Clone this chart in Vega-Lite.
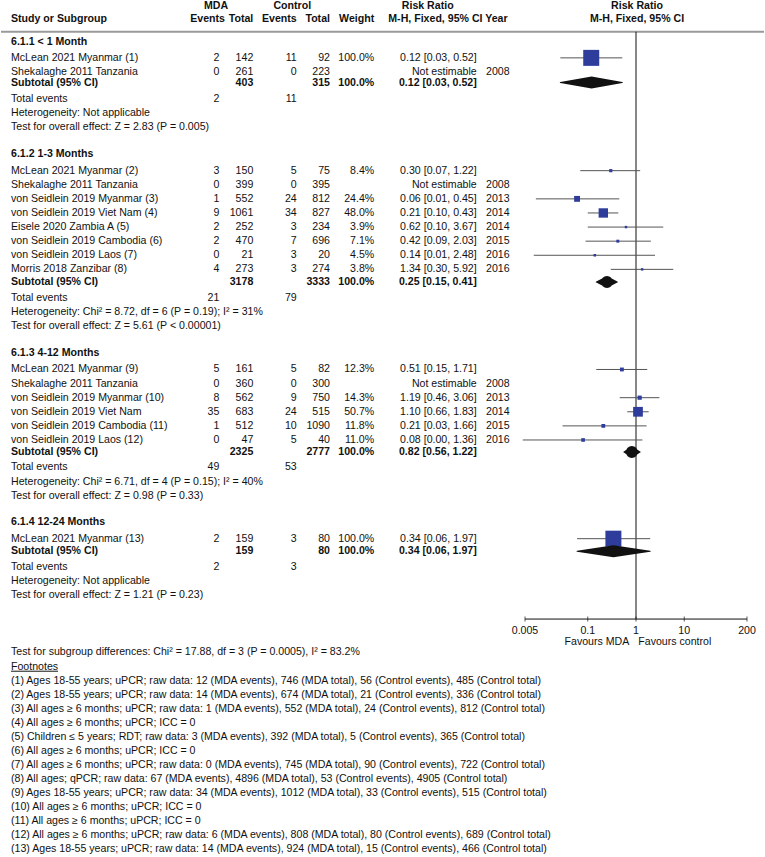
{
  "$schema": "https://vega.github.io/schema/vega-lite/v6.json",
  "width": 765,
  "height": 857,
  "autosize": {"type": "fit", "contains": "padding"},
  "padding": 0,
  "background": "white",
  "config": {"view": {"stroke": null}, "font": "Liberation Sans", "text": {"fontSize": 10.6, "color": "#111111"}},
  "datasets": {
    "cells": [
      {"r": 0, "c": 2, "t": "MDA", "k": "group"},
      {"r": 0, "c": 6, "t": "Control", "k": "group"},
      {"r": 0, "c": 11, "t": "Risk Ratio", "k": "group"},
      {"r": 0, "c": 15, "t": "Risk Ratio", "k": "group"},
      {"r": 0.97, "c": 0, "t": "Study or Subgroup", "k": "colhead"},
      {"r": 0.97, "c": 4, "t": "Events", "k": "colhead"},
      {"r": 0.97, "c": 5, "t": "Total", "k": "colhead"},
      {"r": 0.97, "c": 7, "t": "Events", "k": "colhead"},
      {"r": 0.97, "c": 8, "t": "Total", "k": "colhead"},
      {"r": 0.97, "c": 9, "t": "Weight", "k": "colhead"},
      {"r": 0.97, "c": 10, "t": "M-H, Fixed, 95% CI Year", "k": "colhead"},
      {"r": 0.97, "c": 15, "t": "M-H, Fixed, 95% CI", "k": "colhead"},

      {"r": 2.6, "c": 0, "t": "6.1.1 < 1 Month", "k": "heading"},
      {"r": 3.7, "c": 0, "t": "McLean 2021 Myanmar (1)", "k": "study"},
      {"r": 3.7, "c": 3, "t": "2", "k": "study"},
      {"r": 3.7, "c": 5, "t": "142", "k": "study"},
      {"r": 3.7, "c": 7, "t": "11", "k": "study"},
      {"r": 3.7, "c": 8, "t": "92", "k": "study"},
      {"r": 3.7, "c": 9, "t": "100.0%", "k": "study"},
      {"r": 3.7, "c": 12, "t": "0.12 [0.03, 0.52]", "k": "study"},
      {"r": 4.7, "c": 0, "t": "Shekalaghe 2011 Tanzania", "k": "study"},
      {"r": 4.7, "c": 3, "t": "0", "k": "study"},
      {"r": 4.7, "c": 5, "t": "261", "k": "study"},
      {"r": 4.7, "c": 7, "t": "0", "k": "study"},
      {"r": 4.7, "c": 8, "t": "223", "k": "study"},
      {"r": 4.7, "c": 12, "t": "Not estimable", "k": "study"},
      {"r": 4.7, "c": 13, "t": "2008", "k": "study"},
      {"r": 5.45, "c": 0, "t": "Subtotal (95% CI)", "k": "subtotal"},
      {"r": 5.45, "c": 5, "t": "403", "k": "subtotal"},
      {"r": 5.45, "c": 8, "t": "315", "k": "subtotal"},
      {"r": 5.45, "c": 9, "t": "100.0%", "k": "subtotal"},
      {"r": 5.45, "c": 12, "t": "0.12 [0.03, 0.52]", "k": "subtotal"},
      {"r": 6.6, "c": 0, "t": "Total events", "k": "total"},
      {"r": 6.6, "c": 3, "t": "2", "k": "total"},
      {"r": 6.6, "c": 7, "t": "11", "k": "total"},
      {"r": 7.6, "c": 0, "t": "Heterogeneity: Not applicable", "k": "note"},
      {"r": 8.6, "c": 0, "t": "Test for overall effect: Z = 2.83 (P = 0.005)", "k": "note"},

      {"r": 10.5, "c": 0, "t": "6.1.2 1-3 Months", "k": "heading"},
      {"r": 11.7, "c": 0, "t": "McLean 2021 Myanmar (2)", "k": "study"},
      {"r": 11.7, "c": 3, "t": "3", "k": "study"},
      {"r": 11.7, "c": 5, "t": "150", "k": "study"},
      {"r": 11.7, "c": 7, "t": "5", "k": "study"},
      {"r": 11.7, "c": 8, "t": "75", "k": "study"},
      {"r": 11.7, "c": 9, "t": "8.4%", "k": "study"},
      {"r": 11.7, "c": 12, "t": "0.30 [0.07, 1.22]", "k": "study"},
      {"r": 12.7, "c": 0, "t": "Shekalaghe 2011 Tanzania", "k": "study"},
      {"r": 12.7, "c": 3, "t": "0", "k": "study"},
      {"r": 12.7, "c": 5, "t": "399", "k": "study"},
      {"r": 12.7, "c": 7, "t": "0", "k": "study"},
      {"r": 12.7, "c": 8, "t": "395", "k": "study"},
      {"r": 12.7, "c": 12, "t": "Not estimable", "k": "study"},
      {"r": 12.7, "c": 13, "t": "2008", "k": "study"},
      {"r": 13.7, "c": 0, "t": "von Seidlein 2019 Myanmar (3)", "k": "study"},
      {"r": 13.7, "c": 3, "t": "1", "k": "study"},
      {"r": 13.7, "c": 5, "t": "552", "k": "study"},
      {"r": 13.7, "c": 7, "t": "24", "k": "study"},
      {"r": 13.7, "c": 8, "t": "812", "k": "study"},
      {"r": 13.7, "c": 9, "t": "24.4%", "k": "study"},
      {"r": 13.7, "c": 12, "t": "0.06 [0.01, 0.45]", "k": "study"},
      {"r": 13.7, "c": 13, "t": "2013", "k": "study"},
      {"r": 14.7, "c": 0, "t": "von Seidlein 2019 Viet Nam (4)", "k": "study"},
      {"r": 14.7, "c": 3, "t": "9", "k": "study"},
      {"r": 14.7, "c": 5, "t": "1061", "k": "study"},
      {"r": 14.7, "c": 7, "t": "34", "k": "study"},
      {"r": 14.7, "c": 8, "t": "827", "k": "study"},
      {"r": 14.7, "c": 9, "t": "48.0%", "k": "study"},
      {"r": 14.7, "c": 12, "t": "0.21 [0.10, 0.43]", "k": "study"},
      {"r": 14.7, "c": 13, "t": "2014", "k": "study"},
      {"r": 15.7, "c": 0, "t": "Eisele 2020 Zambia A (5)", "k": "study"},
      {"r": 15.7, "c": 3, "t": "2", "k": "study"},
      {"r": 15.7, "c": 5, "t": "252", "k": "study"},
      {"r": 15.7, "c": 7, "t": "3", "k": "study"},
      {"r": 15.7, "c": 8, "t": "234", "k": "study"},
      {"r": 15.7, "c": 9, "t": "3.9%", "k": "study"},
      {"r": 15.7, "c": 12, "t": "0.62 [0.10, 3.67]", "k": "study"},
      {"r": 15.7, "c": 13, "t": "2014", "k": "study"},
      {"r": 16.7, "c": 0, "t": "von Seidlein 2019 Cambodia (6)", "k": "study"},
      {"r": 16.7, "c": 3, "t": "2", "k": "study"},
      {"r": 16.7, "c": 5, "t": "470", "k": "study"},
      {"r": 16.7, "c": 7, "t": "7", "k": "study"},
      {"r": 16.7, "c": 8, "t": "696", "k": "study"},
      {"r": 16.7, "c": 9, "t": "7.1%", "k": "study"},
      {"r": 16.7, "c": 12, "t": "0.42 [0.09, 2.03]", "k": "study"},
      {"r": 16.7, "c": 13, "t": "2015", "k": "study"},
      {"r": 17.7, "c": 0, "t": "von Seidlein 2019 Laos (7)", "k": "study"},
      {"r": 17.7, "c": 3, "t": "0", "k": "study"},
      {"r": 17.7, "c": 5, "t": "21", "k": "study"},
      {"r": 17.7, "c": 7, "t": "3", "k": "study"},
      {"r": 17.7, "c": 8, "t": "20", "k": "study"},
      {"r": 17.7, "c": 9, "t": "4.5%", "k": "study"},
      {"r": 17.7, "c": 12, "t": "0.14 [0.01, 2.48]", "k": "study"},
      {"r": 17.7, "c": 13, "t": "2016", "k": "study"},
      {"r": 18.7, "c": 0, "t": "Morris 2018 Zanzibar (8)", "k": "study"},
      {"r": 18.7, "c": 3, "t": "4", "k": "study"},
      {"r": 18.7, "c": 5, "t": "273", "k": "study"},
      {"r": 18.7, "c": 7, "t": "3", "k": "study"},
      {"r": 18.7, "c": 8, "t": "274", "k": "study"},
      {"r": 18.7, "c": 9, "t": "3.8%", "k": "study"},
      {"r": 18.7, "c": 12, "t": "1.34 [0.30, 5.92]", "k": "study"},
      {"r": 18.7, "c": 13, "t": "2016", "k": "study"},
      {"r": 19.6, "c": 0, "t": "Subtotal (95% CI)", "k": "subtotal"},
      {"r": 19.6, "c": 5, "t": "3178", "k": "subtotal"},
      {"r": 19.6, "c": 8, "t": "3333", "k": "subtotal"},
      {"r": 19.6, "c": 9, "t": "100.0%", "k": "subtotal"},
      {"r": 19.6, "c": 12, "t": "0.25 [0.15, 0.41]", "k": "subtotal"},
      {"r": 20.7, "c": 0, "t": "Total events", "k": "total"},
      {"r": 20.7, "c": 3, "t": "21", "k": "total"},
      {"r": 20.7, "c": 7, "t": "79", "k": "total"},
      {"r": 21.7, "c": 0, "t": "Heterogeneity: Chi² = 8.72, df = 6 (P = 0.19); I² = 31%", "k": "note"},
      {"r": 22.7, "c": 0, "t": "Test for overall effect: Z = 5.61 (P < 0.00001)", "k": "note"},

      {"r": 24.6, "c": 0, "t": "6.1.3 4-12 Months", "k": "heading"},
      {"r": 25.8, "c": 0, "t": "McLean 2021 Myanmar (9)", "k": "study"},
      {"r": 25.8, "c": 3, "t": "5", "k": "study"},
      {"r": 25.8, "c": 5, "t": "161", "k": "study"},
      {"r": 25.8, "c": 7, "t": "5", "k": "study"},
      {"r": 25.8, "c": 8, "t": "82", "k": "study"},
      {"r": 25.8, "c": 9, "t": "12.3%", "k": "study"},
      {"r": 25.8, "c": 12, "t": "0.51 [0.15, 1.71]", "k": "study"},
      {"r": 26.8, "c": 0, "t": "Shekalaghe 2011 Tanzania", "k": "study"},
      {"r": 26.8, "c": 3, "t": "0", "k": "study"},
      {"r": 26.8, "c": 5, "t": "360", "k": "study"},
      {"r": 26.8, "c": 7, "t": "0", "k": "study"},
      {"r": 26.8, "c": 8, "t": "300", "k": "study"},
      {"r": 26.8, "c": 12, "t": "Not estimable", "k": "study"},
      {"r": 26.8, "c": 13, "t": "2008", "k": "study"},
      {"r": 27.8, "c": 0, "t": "von Seidlein 2019 Myanmar (10)", "k": "study"},
      {"r": 27.8, "c": 3, "t": "8", "k": "study"},
      {"r": 27.8, "c": 5, "t": "562", "k": "study"},
      {"r": 27.8, "c": 7, "t": "9", "k": "study"},
      {"r": 27.8, "c": 8, "t": "750", "k": "study"},
      {"r": 27.8, "c": 9, "t": "14.3%", "k": "study"},
      {"r": 27.8, "c": 12, "t": "1.19 [0.46, 3.06]", "k": "study"},
      {"r": 27.8, "c": 13, "t": "2013", "k": "study"},
      {"r": 28.8, "c": 0, "t": "von Seidlein 2019 Viet Nam", "k": "study"},
      {"r": 28.8, "c": 3, "t": "35", "k": "study"},
      {"r": 28.8, "c": 5, "t": "683", "k": "study"},
      {"r": 28.8, "c": 7, "t": "24", "k": "study"},
      {"r": 28.8, "c": 8, "t": "515", "k": "study"},
      {"r": 28.8, "c": 9, "t": "50.7%", "k": "study"},
      {"r": 28.8, "c": 12, "t": "1.10 [0.66, 1.83]", "k": "study"},
      {"r": 28.8, "c": 13, "t": "2014", "k": "study"},
      {"r": 29.8, "c": 0, "t": "von Seidlein 2019 Cambodia (11)", "k": "study"},
      {"r": 29.8, "c": 3, "t": "1", "k": "study"},
      {"r": 29.8, "c": 5, "t": "512", "k": "study"},
      {"r": 29.8, "c": 7, "t": "10", "k": "study"},
      {"r": 29.8, "c": 8, "t": "1090", "k": "study"},
      {"r": 29.8, "c": 9, "t": "11.8%", "k": "study"},
      {"r": 29.8, "c": 12, "t": "0.21 [0.03, 1.66]", "k": "study"},
      {"r": 29.8, "c": 13, "t": "2015", "k": "study"},
      {"r": 30.8, "c": 0, "t": "von Seidlein 2019 Laos (12)", "k": "study"},
      {"r": 30.8, "c": 3, "t": "0", "k": "study"},
      {"r": 30.8, "c": 5, "t": "47", "k": "study"},
      {"r": 30.8, "c": 7, "t": "5", "k": "study"},
      {"r": 30.8, "c": 8, "t": "40", "k": "study"},
      {"r": 30.8, "c": 9, "t": "11.0%", "k": "study"},
      {"r": 30.8, "c": 12, "t": "0.08 [0.00, 1.36]", "k": "study"},
      {"r": 30.8, "c": 13, "t": "2016", "k": "study"},
      {"r": 31.65, "c": 0, "t": "Subtotal (95% CI)", "k": "subtotal"},
      {"r": 31.65, "c": 5, "t": "2325", "k": "subtotal"},
      {"r": 31.65, "c": 8, "t": "2777", "k": "subtotal"},
      {"r": 31.65, "c": 9, "t": "100.0%", "k": "subtotal"},
      {"r": 31.65, "c": 12, "t": "0.82 [0.56, 1.22]", "k": "subtotal"},
      {"r": 32.7, "c": 0, "t": "Total events", "k": "total"},
      {"r": 32.7, "c": 3, "t": "49", "k": "total"},
      {"r": 32.7, "c": 7, "t": "53", "k": "total"},
      {"r": 33.8, "c": 0, "t": "Heterogeneity: Chi² = 6.71, df = 4 (P = 0.15); I² = 40%", "k": "note"},
      {"r": 34.8, "c": 0, "t": "Test for overall effect: Z = 0.98 (P = 0.33)", "k": "note"},

      {"r": 36.6, "c": 0, "t": "6.1.4 12-24 Months", "k": "heading"},
      {"r": 37.8, "c": 0, "t": "McLean 2021 Myanmar (13)", "k": "study"},
      {"r": 37.8, "c": 3, "t": "2", "k": "study"},
      {"r": 37.8, "c": 5, "t": "159", "k": "study"},
      {"r": 37.8, "c": 7, "t": "3", "k": "study"},
      {"r": 37.8, "c": 8, "t": "80", "k": "study"},
      {"r": 37.8, "c": 9, "t": "100.0%", "k": "study"},
      {"r": 37.8, "c": 12, "t": "0.34 [0.06, 1.97]", "k": "study"},
      {"r": 38.7, "c": 0, "t": "Subtotal (95% CI)", "k": "subtotal"},
      {"r": 38.7, "c": 5, "t": "159", "k": "subtotal"},
      {"r": 38.7, "c": 8, "t": "80", "k": "subtotal"},
      {"r": 38.7, "c": 9, "t": "100.0%", "k": "subtotal"},
      {"r": 38.7, "c": 12, "t": "0.34 [0.06, 1.97]", "k": "subtotal"},
      {"r": 39.8, "c": 0, "t": "Total events", "k": "total"},
      {"r": 39.8, "c": 3, "t": "2", "k": "total"},
      {"r": 39.8, "c": 7, "t": "3", "k": "total"},
      {"r": 40.8, "c": 0, "t": "Heterogeneity: Not applicable", "k": "note"},
      {"r": 41.8, "c": 0, "t": "Test for overall effect: Z = 1.21 (P = 0.23)", "k": "note"},

      {"r": 45.15, "c": 14, "t": "Favours MDA", "k": "favours"},
      {"r": 45.15, "c": 16, "t": "Favours control", "k": "favours"},
      {"r": 45.82, "c": 0, "t": "Test for subgroup differences: Chi² = 17.88, df = 3 (P = 0.0005), I² = 83.2%", "k": "note"},
      {"r": 46.88, "c": 0, "t": "Footnotes", "k": "foothead"},
      {"r": 47.87, "c": 0, "t": "(1) Ages 18-55 years; uPCR; raw data: 12 (MDA events), 746 (MDA total), 56 (Control events), 485 (Control total)", "k": "note"},
      {"r": 48.86, "c": 0, "t": "(2) Ages 18-55 years; uPCR; raw data: 14 (MDA events), 674 (MDA total), 21 (Control events), 336 (Control total)", "k": "note"},
      {"r": 49.86, "c": 0, "t": "(3) All ages ≥ 6 months; uPCR; raw data: 1 (MDA events), 552 (MDA total), 24 (Control events), 812 (Control total)", "k": "note"},
      {"r": 50.85, "c": 0, "t": "(4) All ages ≥ 6 months; uPCR; ICC = 0", "k": "note"},
      {"r": 51.85, "c": 0, "t": "(5) Children ≤ 5 years; RDT; raw data: 3 (MDA events), 392 (MDA total), 5 (Control events), 365 (Control total)", "k": "note"},
      {"r": 52.84, "c": 0, "t": "(6) All ages ≥ 6 months; uPCR; ICC = 0", "k": "note"},
      {"r": 53.84, "c": 0, "t": "(7) All ages ≥ 6 months; uPCR; raw data: 0 (MDA events), 745 (MDA total), 90 (Control events), 722 (Control total)", "k": "note"},
      {"r": 54.83, "c": 0, "t": "(8) All ages; qPCR; raw data: 67 (MDA events), 4896 (MDA total), 53 (Control events), 4905 (Control total)", "k": "note"},
      {"r": 55.83, "c": 0, "t": "(9) Ages 18-55 years; uPCR; raw data: 34 (MDA events), 1012 (MDA total), 33 (Control events), 515 (Control total)", "k": "note"},
      {"r": 56.82, "c": 0, "t": "(10) All ages ≥ 6 months; uPCR; ICC = 0", "k": "note"},
      {"r": 57.82, "c": 0, "t": "(11) All ages ≥ 6 months; uPCR; ICC = 0", "k": "note"},
      {"r": 58.81, "c": 0, "t": "(12) All ages ≥ 6 months; uPCR; raw data: 6 (MDA events), 808 (MDA total), 80 (Control events), 689 (Control total)", "k": "note"},
      {"r": 59.81, "c": 0, "t": "(13) Ages 18-55 years; uPCR; raw data: 14 (MDA events), 924 (MDA total), 15 (Control events), 466 (Control total)", "k": "note"}
    ],
    "studies": [
      {"r": 3.7, "rr": 0.118, "lo": 0.027, "hi": 0.52, "w": 100},
      {"r": 11.7, "rr": 0.30, "lo": 0.07, "hi": 1.22, "w": 8.4},
      {"r": 13.7, "rr": 0.06, "lo": 0.0084, "hi": 0.45, "w": 24.4},
      {"r": 14.7, "rr": 0.21, "lo": 0.10, "hi": 0.43, "w": 48.0},
      {"r": 15.7, "rr": 0.62, "lo": 0.10, "hi": 3.67, "w": 3.9},
      {"r": 16.7, "rr": 0.42, "lo": 0.09, "hi": 2.03, "w": 7.1},
      {"r": 17.7, "rr": 0.14, "lo": 0.0076, "hi": 2.48, "w": 4.5},
      {"r": 18.7, "rr": 1.34, "lo": 0.30, "hi": 5.92, "w": 3.8},
      {"r": 25.8, "rr": 0.51, "lo": 0.15, "hi": 1.71, "w": 12.3},
      {"r": 27.8, "rr": 1.19, "lo": 0.46, "hi": 3.06, "w": 14.3},
      {"r": 28.8, "rr": 1.10, "lo": 0.66, "hi": 1.83, "w": 50.7},
      {"r": 29.8, "rr": 0.21, "lo": 0.03, "hi": 1.66, "w": 11.8},
      {"r": 30.8, "rr": 0.08, "lo": 0.0045, "hi": 1.36, "w": 11.0},
      {"r": 37.8, "rr": 0.34, "lo": 0.06, "hi": 1.97, "w": 100}
    ],
    "subtotals": [
      {"r": 5.45, "lo": 0.027, "est": 0.12, "hi": 0.52},
      {"r": 19.6, "lo": 0.15, "est": 0.25, "hi": 0.41},
      {"r": 31.65, "lo": 0.56, "est": 0.82, "hi": 1.22},
      {"r": 38.7, "lo": 0.06, "est": 0.34, "hi": 1.97}
    ],
    "ticks": [
      {"v": 0.005, "t": "0.005", "r": 43.5},
      {"v": 0.1, "t": "0.1", "r": 43.5},
      {"v": 1, "t": "1", "r": 43.5},
      {"v": 10, "t": "10", "r": 43.5},
      {"v": 200, "t": "200", "r": 43.5}
    ],
    "axisline": [{"lo": 0.005, "hi": 200, "r": 43.5}],
    "nullline": [{"v": 1, "r1": 1.85, "r2": 43.5}],
    "separator": [{"r": 1.85}],
    "underline": [{"r": 47.2, "c": 0, "c2": 1}]
  },
  "layer": [
    {
      "data": {"name": "cells"},
      "layer": [
        {
          "transform": [{"filter": "indexof([0,10,13,16], datum.c) >= 0 && indexof(['group','colhead','heading','subtotal'], datum.k) < 0"}],
          "mark": {"type": "text", "align": "left", "baseline": "middle"},
          "encoding": {
            "x": {"field": "c", "type": "quantitative", "axis": null, "scale": {"domain": [0,1,2,3,4,5,6,7,8,9,10,11,12,13,14,15,16], "range": [10,57,215,218.3,224,252.3,291.3,295.7,329,373.2,387.3,426.7,475.7,485,628.3,636,637.3], "zero": false, "nice": false}},
            "y": {"field": "r", "type": "quantitative", "axis": null, "scale": {"domain": [-0.404, 60.376], "reverse": true, "zero": false, "nice": false}},
            "text": {"field": "t"}
          }
        },
        {
          "transform": [{"filter": "indexof([0,10,13,16], datum.c) >= 0 && indexof(['group','colhead','heading','subtotal'], datum.k) >= 0"}],
          "mark": {"type": "text", "align": "left", "baseline": "middle", "fontWeight": "bold"},
          "encoding": {
            "x": {"field": "c", "type": "quantitative", "axis": null, "scale": {"domain": [0,1,2,3,4,5,6,7,8,9,10,11,12,13,14,15,16], "range": [10,57,215,218.3,224,252.3,291.3,295.7,329,373.2,387.3,426.7,475.7,485,628.3,636,637.3], "zero": false, "nice": false}},
            "y": {"field": "r", "type": "quantitative", "axis": null, "scale": {"domain": [-0.404, 60.376], "reverse": true, "zero": false, "nice": false}},
            "text": {"field": "t"}
          }
        },
        {
          "transform": [{"filter": "indexof([3,4,5,7,8,9,12,14], datum.c) >= 0 && indexof(['group','colhead','heading','subtotal'], datum.k) < 0"}],
          "mark": {"type": "text", "align": "right", "baseline": "middle"},
          "encoding": {
            "x": {"field": "c", "type": "quantitative", "axis": null, "scale": {"domain": [0,1,2,3,4,5,6,7,8,9,10,11,12,13,14,15,16], "range": [10,57,215,218.3,224,252.3,291.3,295.7,329,373.2,387.3,426.7,475.7,485,628.3,636,637.3], "zero": false, "nice": false}},
            "y": {"field": "r", "type": "quantitative", "axis": null, "scale": {"domain": [-0.404, 60.376], "reverse": true, "zero": false, "nice": false}},
            "text": {"field": "t"}
          }
        },
        {
          "transform": [{"filter": "indexof([3,4,5,7,8,9,12,14], datum.c) >= 0 && indexof(['group','colhead','heading','subtotal'], datum.k) >= 0"}],
          "mark": {"type": "text", "align": "right", "baseline": "middle", "fontWeight": "bold"},
          "encoding": {
            "x": {"field": "c", "type": "quantitative", "axis": null, "scale": {"domain": [0,1,2,3,4,5,6,7,8,9,10,11,12,13,14,15,16], "range": [10,57,215,218.3,224,252.3,291.3,295.7,329,373.2,387.3,426.7,475.7,485,628.3,636,637.3], "zero": false, "nice": false}},
            "y": {"field": "r", "type": "quantitative", "axis": null, "scale": {"domain": [-0.404, 60.376], "reverse": true, "zero": false, "nice": false}},
            "text": {"field": "t"}
          }
        },
        {
          "transform": [{"filter": "indexof([2,6,11,15], datum.c) >= 0"}],
          "mark": {"type": "text", "align": "center", "baseline": "middle", "fontWeight": "bold"},
          "encoding": {
            "x": {"field": "c", "type": "quantitative", "axis": null, "scale": {"domain": [0,1,2,3,4,5,6,7,8,9,10,11,12,13,14,15,16], "range": [10,57,215,218.3,224,252.3,291.3,295.7,329,373.2,387.3,426.7,475.7,485,628.3,636,637.3], "zero": false, "nice": false}},
            "y": {"field": "r", "type": "quantitative", "axis": null, "scale": {"domain": [-0.404, 60.376], "reverse": true, "zero": false, "nice": false}},
            "text": {"field": "t"}
          }
        },
        {
          "data": {"name": "underline"},
          "mark": {"type": "rule", "color": "#111111", "strokeWidth": 1},
          "encoding": {
            "x": {"field": "c", "type": "quantitative", "axis": null, "scale": {"domain": [0,1,2,3,4,5,6,7,8,9,10,11,12,13,14,15,16], "range": [10,57,215,218.3,224,252.3,291.3,295.7,329,373.2,387.3,426.7,475.7,485,628.3,636,637.3], "zero": false, "nice": false}},
            "x2": {"field": "c2"},
            "y": {"field": "r", "type": "quantitative", "axis": null, "scale": {"domain": [-0.404, 60.376], "reverse": true, "zero": false, "nice": false}}
          }
        },
        {
          "data": {"name": "separator"},
          "mark": {"type": "rule", "color": "#9a9a9a", "strokeWidth": 2},
          "encoding": {
            "y": {"field": "r", "type": "quantitative", "axis": null, "scale": {"domain": [-0.404, 60.376], "reverse": true, "zero": false, "nice": false}}
          }
        }
      ]
    },
    {
      "layer": [
        {
          "data": {"name": "nullline"},
          "mark": {"type": "rule", "color": "#111111", "strokeWidth": 1},
          "encoding": {
            "x": {"field": "v", "type": "quantitative", "axis": null, "scale": {"type": "log", "domain": [0.005, 200], "range": [524, 746], "nice": false}},
            "y": {"field": "r1", "type": "quantitative", "axis": null, "scale": {"domain": [-0.404, 60.376], "reverse": true, "zero": false, "nice": false}},
            "y2": {"field": "r2"}
          }
        },
        {
          "data": {"name": "studies"},
          "mark": {"type": "rule", "color": "#555555", "strokeWidth": 1},
          "encoding": {
            "x": {"field": "lo", "type": "quantitative", "axis": null, "scale": {"type": "log", "domain": [0.005, 200], "range": [524, 746], "nice": false}},
            "x2": {"field": "hi"},
            "y": {"field": "r", "type": "quantitative", "axis": null, "scale": {"domain": [-0.404, 60.376], "reverse": true, "zero": false, "nice": false}}
          }
        },
        {
          "data": {"name": "studies"},
          "mark": {"type": "square", "filled": true, "color": "#2e3d9c", "opacity": 1},
          "encoding": {
            "x": {"field": "rr", "type": "quantitative", "axis": null, "scale": {"type": "log", "domain": [0.005, 200], "range": [524, 746], "nice": false}},
            "y": {"field": "r", "type": "quantitative", "axis": null, "scale": {"domain": [-0.404, 60.376], "reverse": true, "zero": false, "nice": false}},
            "size": {"field": "w", "type": "quantitative", "legend": null, "scale": {"type": "pow", "exponent": 1.5, "domain": [0, 100], "range": [4, 256], "zero": false}}
          }
        },
        {
          "data": {"name": "subtotals"},
          "transform": [{"fold": ["lo", "est", "hi"], "as": ["pt", "val"]}],
          "mark": {"type": "trail", "color": "#111111"},
          "encoding": {
            "x": {"field": "val", "type": "quantitative", "axis": null, "scale": {"type": "log", "domain": [0.005, 200], "range": [524, 746], "nice": false}},
            "y": {"field": "r", "type": "quantitative", "axis": null, "scale": {"domain": [-0.404, 60.376], "reverse": true, "zero": false, "nice": false}},
            "size": {"field": "pt", "type": "ordinal", "legend": null, "scale": {"type": "ordinal", "domain": ["lo", "est", "hi"], "range": [0, 12, 0]}},
            "detail": {"field": "r", "type": "nominal"}
          }
        },
        {
          "data": {"name": "axisline"},
          "mark": {"type": "rule", "color": "#111111", "strokeWidth": 1},
          "encoding": {
            "x": {"field": "lo", "type": "quantitative", "axis": null, "scale": {"type": "log", "domain": [0.005, 200], "range": [524, 746], "nice": false}},
            "x2": {"field": "hi"},
            "y": {"field": "r", "type": "quantitative", "axis": null, "scale": {"domain": [-0.404, 60.376], "reverse": true, "zero": false, "nice": false}}
          }
        },
        {
          "data": {"name": "ticks"},
          "mark": {"type": "tick", "orient": "vertical", "color": "#111111", "size": 5, "thickness": 1},
          "encoding": {
            "x": {"field": "v", "type": "quantitative", "axis": null, "scale": {"type": "log", "domain": [0.005, 200], "range": [524, 746], "nice": false}},
            "y": {"field": "r", "type": "quantitative", "axis": null, "scale": {"domain": [-0.404, 60.376], "reverse": true, "zero": false, "nice": false}}
          }
        },
        {
          "data": {"name": "ticks"},
          "mark": {"type": "text", "align": "center", "baseline": "middle", "dy": 11.7},
          "encoding": {
            "x": {"field": "v", "type": "quantitative", "axis": null, "scale": {"type": "log", "domain": [0.005, 200], "range": [524, 746], "nice": false}},
            "y": {"field": "r", "type": "quantitative", "axis": null, "scale": {"domain": [-0.404, 60.376], "reverse": true, "zero": false, "nice": false}},
            "text": {"field": "t"}
          }
        }
      ]
    }
  ],
  "resolve": {"scale": {"x": "independent"}}
}
